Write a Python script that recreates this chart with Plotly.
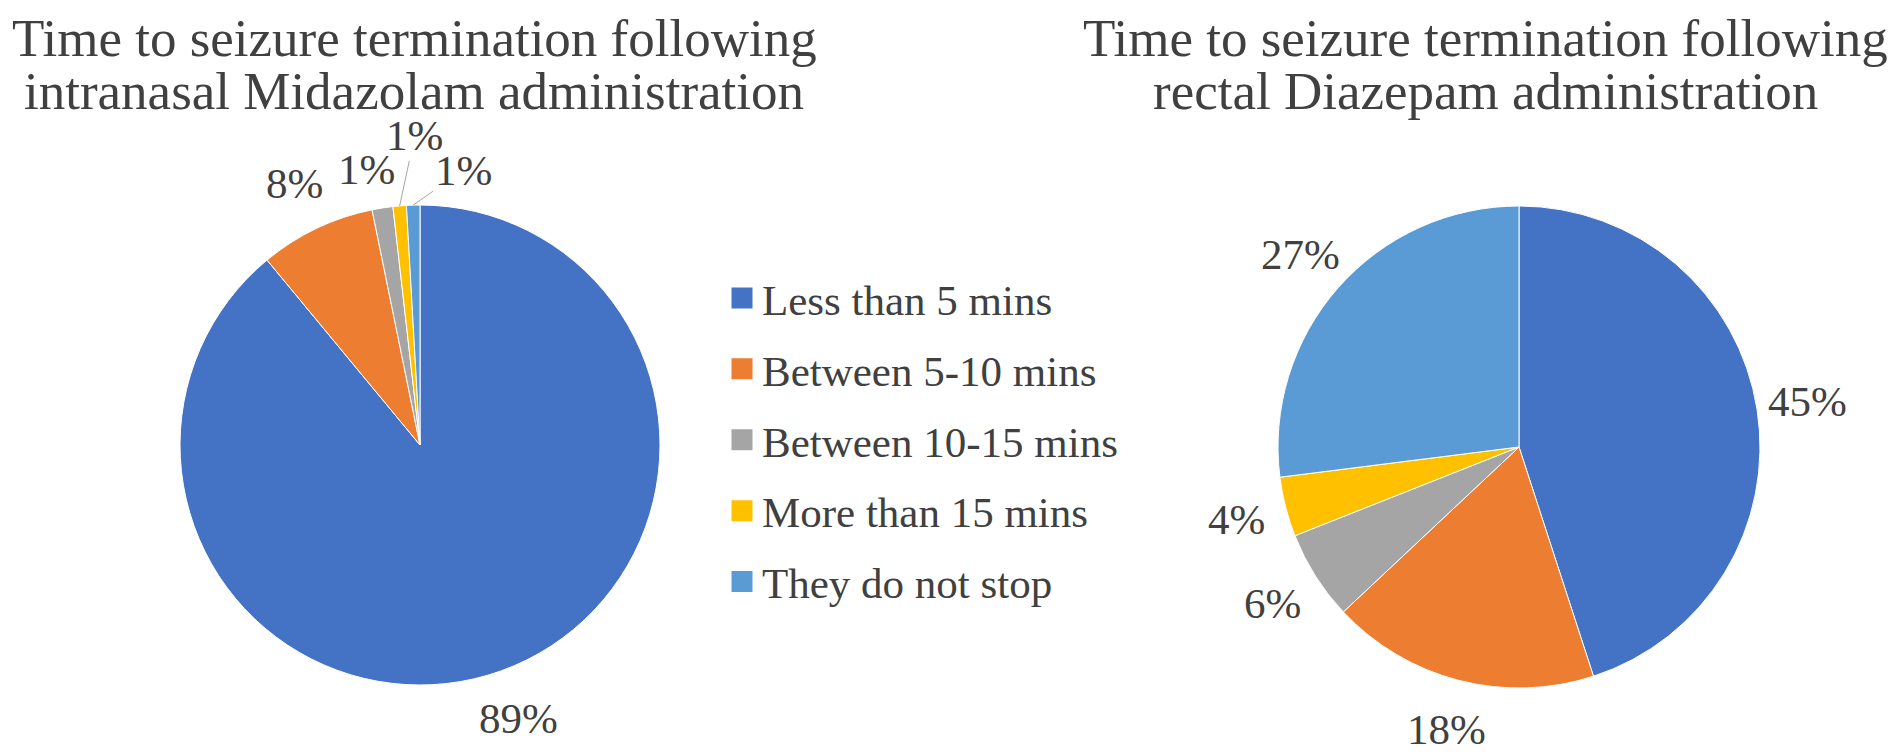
import math
import plotly.graph_objects as go

categories = ["Less than 5 mins", "Between 5-10 mins", "Between 10-15 mins",
              "More than 15 mins", "They do not stop"]
midazolam_pct = [89.0, 7.8, 1.4, 0.9, 0.9]
diazepam_pct = [45, 18, 6, 4, 27]
colors = ["#4472C4", "#ED7D31", "#A5A5A5", "#FFC000", "#5B9BD5"]

title_left = ["Time to seizure termination following",
              "intranasal Midazolam administration"]
title_right = ["Time to seizure termination following",
               "rectal Diazepam administration"]

# page has an 8px body margin, so the figure is a bit smaller than the window
W, H = 1886, 739
FONT = "Liberation Serif"
TXT = "#404040"

LEFT_PIE = (412, 437, 240)   # centre x, centre y, radius in px
RIGHT_PIE = (1511, 439, 241)
LABEL_DIST = 1.21            # label centres sit this far out (in radii)


def px_x(x):
    return x / W


def px_y(y):
    return 1 - y / H


def pie_domain(cx, cy, r):
    return dict(x=[px_x(cx - r), px_x(cx + r)], y=[px_y(cy + r), px_y(cy - r)])


def slice_point(vals, i, pie, k=1.0):
    # point at k radii along the middle of slice i (clockwise from 12 o'clock)
    cx, cy, r = pie
    tot = sum(vals)
    mid = (sum(vals[:i]) + vals[i] / 2) / tot * 2 * math.pi
    return cx + k * r * math.sin(mid), cy - k * r * math.cos(mid)


def pct_text(vals, i):
    return f"{round(vals[i] / sum(vals) * 100)}%"


fig = go.Figure()

for vals, pie in [(midazolam_pct, LEFT_PIE), (diazepam_pct, RIGHT_PIE)]:
    fig.add_trace(go.Pie(
        labels=categories, values=vals, sort=False, direction="clockwise",
        rotation=0, domain=pie_domain(*pie),
        marker=dict(colors=colors, line=dict(color="white", width=1)),
        textinfo="none", showlegend=False, hoverinfo="label+percent",
    ))

# legend entries (one group each so the rows can be spaced like the original)
for name, c in zip(categories, colors):
    fig.add_trace(go.Scatter(
        x=[None], y=[None], mode="markers", name=name, legendgroup=name,
        marker=dict(symbol="square", size=16, color=c, line=dict(width=5, color=c)),
    ))

annotations = []
for lines, cx in [(title_left, 406), (title_right, 1477)]:
    for line, cy in zip(lines, [30, 83]):
        annotations.append(dict(
            text=line, x=px_x(cx), y=px_y(cy), xref="paper", yref="paper",
            xanchor="center", yanchor="middle", showarrow=False,
            font=dict(family=FONT, size=53, color=TXT),
        ))

label_font = dict(family=FONT, size=43, color=TXT)

# data labels outside the slices
big = [(midazolam_pct, LEFT_PIE, i) for i in (0, 1)] + \
      [(diazepam_pct, RIGHT_PIE, i) for i in range(len(diazepam_pct))]
for vals, pie, i in big:
    lx, ly = slice_point(vals, i, pie, LABEL_DIST)
    annotations.append(dict(
        text=pct_text(vals, i), x=px_x(lx), y=px_y(ly), xref="paper", yref="paper",
        xanchor="center", yanchor="middle", showarrow=False, font=label_font,
    ))

# the three tiny slices of the left pie: (index, dx, dy from the rim, leader?)
for i, dx, dy, leader in [(2, -16, -38, False), (3, 15, -70, True), (4, 50, -35, True)]:
    px, py = slice_point(midazolam_pct, i, LEFT_PIE)
    if leader:
        annotations.append(dict(
            text=pct_text(midazolam_pct, i), x=px_x(px), y=px_y(py),
            xref="paper", yref="paper", font=label_font,
            showarrow=True, ax=dx, ay=dy, arrowhead=0, arrowwidth=1,
            arrowcolor="#A6A6A6", standoff=0,
        ))
    else:
        annotations.append(dict(
            text=pct_text(midazolam_pct, i), x=px_x(px + dx), y=px_y(py + dy),
            xref="paper", yref="paper", font=label_font, showarrow=False,
            xanchor="center", yanchor="middle",
        ))

fig.update_layout(
    width=W, height=H, autosize=False,
    margin=dict(l=0, r=0, t=0, b=0),
    paper_bgcolor="white", plot_bgcolor="white",
    xaxis=dict(visible=False), yaxis=dict(visible=False),
    legend=dict(x=px_x(714), y=px_y(432), xanchor="left", yanchor="middle",
                font=dict(family=FONT, size=43, color=TXT),
                traceorder="grouped", tracegroupgap=12, bgcolor="rgba(0,0,0,0)"),
    annotations=annotations,
)

fig.write_html("out.html")
